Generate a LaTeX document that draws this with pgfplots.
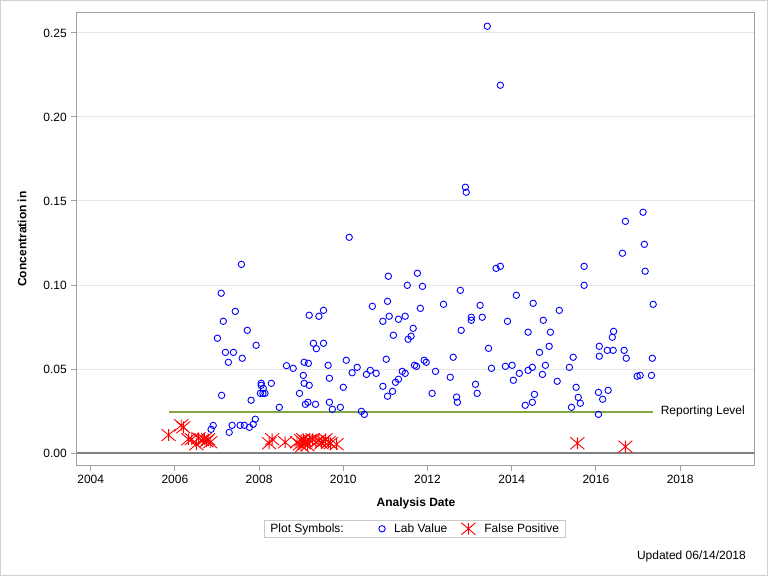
\documentclass[border=0pt]{standalone}
\usepackage{pgfplots}
\pgfplotsset{compat=1.18}
\usepackage{fontspec}
\setmainfont{Liberation Sans}
\definecolor{axgray}{RGB}{160,160,160}
\definecolor{gridgray}{RGB}{230,230,230}
\definecolor{framegray}{RGB}{208,208,208}
\definecolor{replev}{RGB}{134,166,70}
\definecolor{zerogray}{RGB}{128,128,128}
\definecolor{legbox}{RGB}{200,200,200}

\pgfdeclareplotmark{sasstar}{%
  \pgfpathmoveto{\pgfqpoint{0pt}{-0.85\pgfplotmarksize}}%
  \pgfpathlineto{\pgfqpoint{0pt}{0.85\pgfplotmarksize}}%
  \pgfpathmoveto{\pgfqpoint{-\pgfplotmarksize}{-0.85\pgfplotmarksize}}%
  \pgfpathlineto{\pgfqpoint{\pgfplotmarksize}{0.85\pgfplotmarksize}}%
  \pgfpathmoveto{\pgfqpoint{-\pgfplotmarksize}{0.85\pgfplotmarksize}}%
  \pgfpathlineto{\pgfqpoint{\pgfplotmarksize}{-0.85\pgfplotmarksize}}%
  \pgfusepathqstroke}

\pgfplotstableread{
x y
2007.01 0.0683
2007.10 0.0951
2007.15 0.0784
2007.11 0.0343
2007.20 0.0599
2007.27 0.0540
2007.39 0.0599
2007.435 0.0843
2007.58 0.1123
2007.60 0.0564
2007.72 0.0730
2007.81 0.0314
2007.93 0.0641
2006.86 0.0141
2006.91 0.0164
2007.29 0.0123
2007.36 0.0165
2007.55 0.0165
2007.65 0.0165
2007.77 0.0153
2007.86 0.0171
2007.91 0.0201
2008.05 0.0415
2008.05 0.0403
2008.10 0.0385
2008.03 0.0355
2008.09 0.0355
2008.14 0.0355
2008.29 0.0415
2008.48 0.0272
2008.65 0.0520
2008.81 0.0504
2008.96 0.0355
2009.05 0.0462
2009.07 0.0540
2009.07 0.0415
2009.10 0.0290
2009.16 0.0302
2009.17 0.0534
2009.19 0.0820
2009.19 0.0403
2009.29 0.0653
2009.34 0.0290
2009.36 0.0621
2009.42 0.0814
2009.53 0.0849
2009.53 0.0653
2009.64 0.0522
2009.67 0.0445
2009.67 0.0302
2009.74 0.0260
2009.93 0.0272
2010.00 0.0391
2010.07 0.0552
2010.14 0.1284
2010.21 0.0478
2010.33 0.0510
2010.43 0.0248
2010.50 0.0230
2010.55 0.0468
2010.64 0.0492
2010.69 0.0873
2010.78 0.0474
2010.94 0.0784
2010.94 0.0397
2011.02 0.0558
2011.05 0.0903
2011.05 0.0338
2011.07 0.1052
2011.09 0.0814
2011.17 0.0367
2011.19 0.0701
2011.24 0.0421
2011.31 0.0796
2011.31 0.0439
2011.40 0.0486
2011.47 0.0814
2011.47 0.0474
2011.52 0.0998
2011.54 0.0677
2011.61 0.0695
2011.66 0.0742
2011.69 0.0522
2011.74 0.0516
2011.76 0.1070
2011.83 0.0861
2011.88 0.0992
2011.92 0.0552
2011.97 0.0540
2012.11 0.0355
2012.19 0.0486
2012.38 0.0885
2012.54 0.0451
2012.61 0.0570
2012.69 0.0333
2012.71 0.0302
2012.78 0.0968
2012.80 0.0730
2012.90 0.1582
2012.92 0.1552
2013.04 0.0808
2013.04 0.0790
2013.14 0.0409
2013.18 0.0355
2013.25 0.0879
2013.30 0.0808
2013.42 0.2540
2013.45 0.0623
2013.52 0.0504
2013.63 0.1099
2013.73 0.1111
2013.73 0.2189
2013.85 0.0516
2013.90 0.0784
2014.01 0.0522
2014.04 0.0433
2014.11 0.0939
2014.18 0.0474
2014.32 0.0284
2014.39 0.0719
2014.39 0.0492
2014.49 0.0510
2014.49 0.0302
2014.51 0.0891
2014.54 0.0349
2014.66 0.0599
2014.73 0.0468
2014.75 0.0790
2014.80 0.0522
2014.89 0.0635
2014.92 0.0719
2015.08 0.0427
2015.13 0.0849
2015.37 0.0510
2015.42 0.0272
2015.46 0.0570
2015.53 0.0391
2015.58 0.0331
2015.63 0.0296
2015.72 0.1111
2015.72 0.0998
2016.06 0.0361
2016.06 0.0230
2016.08 0.0635
2016.08 0.0576
2016.16 0.0320
2016.27 0.0611
2016.29 0.0373
2016.39 0.0689
2016.41 0.0611
2016.42 0.0724
2016.63 0.1189
2016.67 0.0611
2016.70 0.1379
2016.72 0.0564
2016.98 0.0457
2017.05 0.0462
2017.12 0.1433
2017.15 0.1242
2017.17 0.1082
2017.32 0.0462
2017.34 0.0564
2017.36 0.0885
}\labdata

\pgfplotstableread{
x y
2005.85 0.0107
2006.15 0.0165
2006.20 0.0153
2006.32 0.0082
2006.40 0.0082
2006.51 0.0052
2006.56 0.0088
2006.65 0.0076
2006.70 0.0082
2006.75 0.0070
2006.79 0.0082
2006.84 0.0064
2008.24 0.0058
2008.31 0.0082
2008.62 0.0064
2008.90 0.0064
2008.97 0.0052
2009.00 0.0076
2009.02 0.0040
2009.05 0.0082
2009.07 0.0058
2009.10 0.0070
2009.15 0.0046
2009.20 0.0076
2009.27 0.0082
2009.35 0.0064
2009.42 0.0076
2009.48 0.0058
2009.52 0.0070
2009.58 0.0082
2009.65 0.0064
2009.70 0.0058
2009.84 0.0052
2015.56 0.0058
2016.70 0.0038
}\fpdata

\begin{document}
\fontsize{12}{14}\selectfont
\begin{tikzpicture}[x=1pt,y=1pt]
\useasboundingbox (0,0) rectangle (768,576);
\fill[white] (0,0) rectangle (768,576);
\draw[framegray, line width=1pt] (0.5,0.5) rectangle (767.5,575.5);
\begin{axis}[
  at={(77pt,111pt)}, anchor=south west,
  scale only axis, width=677pt, height=452pt,
  xmin=2003.675, xmax=2019.755,
  ymin=-0.00714, ymax=0.2619,
  axis line style={axgray, line width=1pt},
  tick style={axgray, line width=1pt},
  tick align=outside, major tick length=6pt,
  xtick pos=bottom, ytick pos=left,
  xtick={2004,2006,2008,2010,2012,2014,2016,2018},
  xticklabels={2004,2006,2008,2010,2012,2014,2016,2018},
  ytick={0,0.05,0.10,0.15,0.20,0.25},
  yticklabels={0.00,0.05,0.10,0.15,0.20,0.25},
  ymajorgrids, major grid style={gridgray, line width=1pt},
  ticklabel style={font=\fontsize{12}{14}\selectfont},
  xlabel={Analysis Date}, ylabel={Concentration in},
  label style={font=\bfseries\fontsize{12}{14}\selectfont},
  xlabel style={at={(axis description cs:0.5007,-0.0841)}, anchor=center},
  ylabel style={at={(axis description cs:-0.0812,0.5)}, anchor=center},
  clip=false,
  legend columns=3,
  legend cell align=left,
  legend style={at={(axis description cs:0.2762,-0.1217)}, anchor=north west,
    draw=legbox, line width=1pt, font=\fontsize{12}{14}\selectfont,
    inner xsep=4pt, inner ysep=1pt,
    /tikz/column 2/.style={column sep=33pt},
    /tikz/column 3/.style={column sep=7pt},
    /tikz/column 4/.style={column sep=12pt},
    /tikz/column 5/.style={column sep=7pt}},
]
\addlegendimage{empty legend}
\addlegendentry{Plot Symbols:}
\addplot[forget plot, zerogray, line width=2pt] coordinates {(2003.675,0) (2019.755,0)};
\addplot[forget plot, replev, line width=2pt] coordinates {(2005.87,0.0245) (2017.35,0.0245)}
  node[pos=1, anchor=west, black, xshift=3pt, font=\fontsize{12}{14}\selectfont] {Reporting Level};
\addplot[only marks, mark=o, blue, mark size=3.2pt, line width=0.9pt] table[x=x,y=y] {\labdata};
\addlegendentry{Lab Value}
\addplot[only marks, mark=sasstar, red, mark size=7pt, line width=0.9pt] table[x=x,y=y] {\fpdata};
\addlegendentry{False Positive}
\end{axis}
\node[anchor=east, font=\fontsize{12}{14}\selectfont] at (750,19.5) {Updated 06/14/2018};
\end{tikzpicture}
\end{document}
